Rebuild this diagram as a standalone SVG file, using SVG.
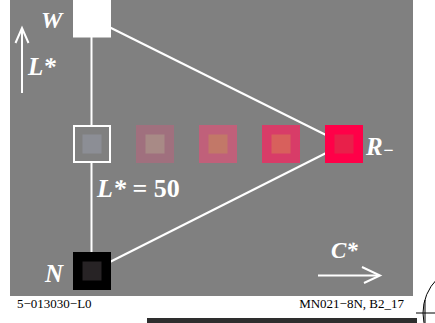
<svg xmlns="http://www.w3.org/2000/svg" width="435" height="323" viewBox="0 0 435 323">
<style>
.bg{fill:#808080}
.ln{stroke:#fff;stroke-width:2;fill:none}
.lbl{font-family:"Liberation Serif","Times New Roman",serif;fill:#fff;font-weight:bold;font-style:italic}
.ft{font-family:"Liberation Serif","Times New Roman",serif;fill:#000;font-size:13px}
</style>
<rect class="bg" x="10" y="0" width="403" height="296"/>
<g id="connectors">
<line class="ln" x1="91.5" y1="18" x2="91.5" y2="271"/>
<line class="ln" x1="92" y1="18.5" x2="344" y2="144"/>
<line class="ln" x1="92" y1="271" x2="344" y2="144"/>
</g>
<g id="node-W">
<rect x="73" y="0" width="38" height="37.5" fill="#fff"/>
<text class="lbl" x="41" y="28" font-size="24">W</text>
</g>
<g id="node-N">
<rect x="73" y="252" width="38" height="38" fill="#000"/>
<rect x="82.5" y="261.5" width="19" height="19" fill="#272325"/>
<text class="lbl" x="45" y="282" font-size="25">N</text>
</g>
<g id="node-mid">
<rect x="74" y="126" width="36" height="36" fill="#808080" stroke="#fff" stroke-width="2"/>
<rect x="82.5" y="134.5" width="19" height="19" fill="#8c8e95"/>
<text class="lbl" x="97" y="197" font-size="26">L*<tspan font-style="normal"> = 50</tspan></text>
</g>
<g id="node-2">
<rect x="136" y="125" width="38" height="38" fill="#a0707e"/>
<rect x="145.5" y="134.5" width="19" height="19" fill="#a88a86"/>
</g>
<g id="node-3">
<rect x="199" y="125" width="38" height="38" fill="#c0607a"/>
<rect x="208.5" y="134.5" width="19" height="19" fill="#c27868"/>
</g>
<g id="node-4">
<rect x="262" y="125" width="38" height="38" fill="#d83c68"/>
<rect x="271.5" y="134.5" width="19" height="19" fill="#d8605c"/>
</g>
<g id="node-R">
<rect x="325" y="125" width="38" height="38" fill="#ff0048"/>
<rect x="334.5" y="134.5" width="19" height="19" fill="#e8204a"/>
<text class="lbl" x="366" y="155" font-size="25">R<tspan font-size="18" dy="1">−</tspan></text>
</g>
<g id="axis-L">
<line class="ln" x1="22" y1="93" x2="22" y2="29"/>
<polyline class="ln" points="15.5,43 22,28 28.5,43"/>
<text class="lbl" x="28" y="75" font-size="25">L*</text>
</g>
<g id="axis-C">
<line class="ln" x1="318" y1="275.5" x2="379" y2="275.5"/>
<polyline class="ln" points="362,267 380,275.5 364,283"/>
<text class="lbl" x="331" y="258" font-size="23" font-weight="normal">C*</text>
</g>
<text class="ft" x="17" y="308">5−013030−L0</text>
<text class="ft" x="404" y="308" text-anchor="end">MN021−8N, B2_17</text>
<rect x="147" y="318" width="270" height="5" fill="#2e2e2e"/>
<g fill="none" stroke="#000" stroke-width="1">
<circle cx="471" cy="313" r="48"/>
<line x1="416" y1="313" x2="435" y2="313"/>
<line x1="425" y1="300" x2="425" y2="323"/>
</g>
</svg>
